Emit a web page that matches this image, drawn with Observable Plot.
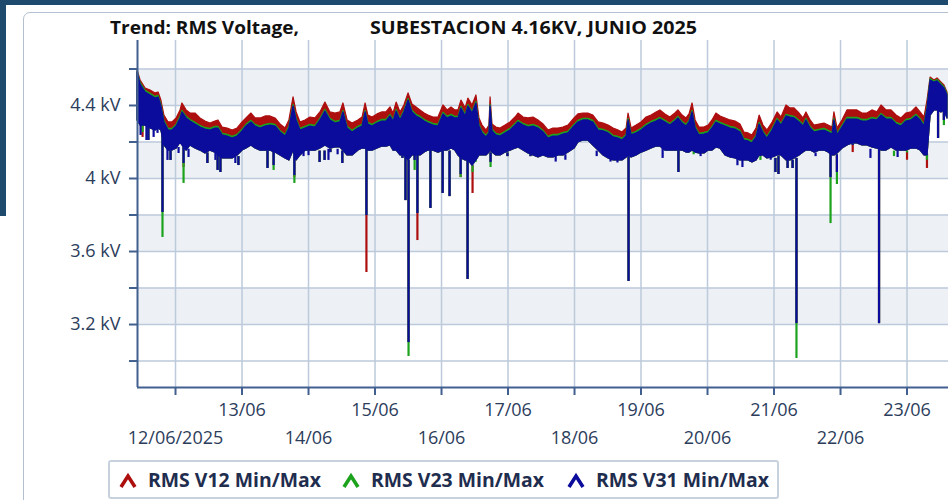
<!DOCTYPE html>
<html>
<head>
<meta charset="utf-8">
<script src="https://cdn.jsdelivr.net/npm/d3@7"></script>
<script src="https://cdn.jsdelivr.net/npm/@observablehq/plot@0.6"></script>
<style>
html,body{margin:0;padding:0;background:#fff;}
#wrap{position:relative;width:948px;height:500px;overflow:hidden;font-family:"Open Sans",sans-serif;background:#fff;}
.bar-top{position:absolute;left:0;top:0;width:948px;height:5px;background:#1e4a6e;}
.bar-left{position:absolute;left:0;top:0;width:6px;height:216px;background:#1e4a6e;}
.panel{position:absolute;left:23px;top:12px;width:960px;height:520px;border:1.5px solid #b3c0d0;border-radius:7px;box-sizing:border-box;}
#chart{position:absolute;left:0;top:0;}
#overlay{position:absolute;left:0;top:0;}
</style>
</head>
<body>
<div id="wrap">
  <div class="bar-top"></div>
  <div class="bar-left"></div>
  <div class="panel"></div>
  <div id="chart"></div>
  <svg id="overlay" width="948" height="500"></svg>
</div>
<script>
// ---------- DATA ----------
const titleLeft = "Trend: RMS Voltage,";
const titleRight = "SUBESTACION 4.16KV, JUNIO 2025";
const seriesNames = ["RMS V12 Min/Max", "RMS V23 Min/Max", "RMS V31 Min/Max"];
const seriesColors = ["#ad0e0e", "#1ca21c", "#0c0c9c"];

// envelope sample times: hours since 2025-06-11 00:00
const envHours = [10.3,11.4,13.2,15.0,16.8,17.9,18.9,20.0,21.5,22.9,
24.4,25.8,26.5,28.0,29.4,31.2,33.0,34.8,36.6,38.4,
39.5,41.0,42.8,44.6,46.4,48.2,49.6,51.4,52.9,54.7,
56.5,58.3,60.1,61.9,63.7,65.1,66.6,67.7,69.1,70.9,
72.7,74.5,76.3,78.1,79.9,81.7,83.5,84.6,86.1,87.9,
90.0,91.5,92.6,93.6,95.1,96.9,98.7,100.1,101.6,102.7,
103.8,105.2,106.6,108.1,109.5,111.0,112.4,113.9,115.3,117.1,
118.9,120.7,122.2,123.6,125.0,126.1,127.2,128.7,129.7,131.2,
132.6,133.7,134.8,136.2,137.3,137.7,138.4,139.8,141.3,143.1,
144.9,146.7,147.8,149.6,151.4,153.2,155.0,156.8,158.6,160.4,
162.2,164.0,165.8,168.0,169.4,171.2,173.0,174.8,176.7,178.5,
180.3,182.1,183.9,185.3,186.8,187.5,188.6,190.4,192.2,194.0,
195.8,197.6,199.0,200.8,202.6,204.4,205.5,207.0,208.4,209.5,
210.6,211.7,213.1,214.9,216.4,217.8,219.2,220.7,222.5,224.3,
226.1,227.9,229.3,230.8,232.2,233.7,234.8,236.2,237.6,239.5,
241.3,242.7,244.5,245.9,247.4,249.2,250.6,251.7,253.2,254.6,
256.4,258.2,259.7,261.1,261.8,262.9,264.7,266.5,268.3,270.1,
271.9,273.7,275.5,277.3,278.8,280.6,282.4,284.2,286.0,287.8,
289.6,291.4,292.9,294.3,295.4,296.5,297.9,299.0,300.4,301.5,302.6];

// V12 max (kV)
const v12Max = [4.592,4.537,4.493,4.482,4.466,4.471,4.427,4.345,4.307,4.307,
4.329,4.373,4.411,4.373,4.356,4.356,4.329,4.312,4.301,4.312,
4.318,4.279,4.274,4.263,4.274,4.307,4.329,4.356,4.329,4.329,
4.340,4.340,4.329,4.296,4.274,4.318,4.444,4.362,4.307,4.318,
4.334,4.329,4.362,4.416,4.362,4.356,4.362,4.411,4.318,4.301,
4.318,4.334,4.411,4.345,4.334,4.351,4.362,4.362,4.389,4.356,
4.416,4.362,4.400,4.466,4.405,4.389,4.373,4.356,4.345,4.334,
4.334,4.400,4.373,4.389,4.373,4.373,4.427,4.384,4.438,4.400,
4.455,4.329,4.290,4.263,4.290,4.444,4.296,4.279,4.274,4.290,
4.307,4.334,4.356,4.334,4.329,4.334,4.318,4.296,4.263,4.274,
4.274,4.279,4.290,4.329,4.351,4.356,4.356,4.345,4.307,4.301,
4.290,4.274,4.263,4.252,4.274,4.356,4.274,4.290,4.307,4.334,
4.345,4.362,4.373,4.351,4.334,4.356,4.373,4.345,4.329,4.351,
4.411,4.318,4.279,4.279,4.290,4.318,4.356,4.340,4.329,4.318,
4.312,4.296,4.252,4.247,4.236,4.274,4.345,4.290,4.263,4.307,
4.362,4.334,4.400,4.384,4.384,4.356,4.329,4.362,4.318,4.290,
4.296,4.301,4.290,4.279,4.362,4.274,4.318,4.373,4.373,4.373,
4.356,4.356,4.373,4.362,4.400,4.373,4.373,4.345,4.329,4.356,
4.362,4.389,4.362,4.334,4.427,4.553,4.537,4.548,4.526,4.510,4.471];

// V23 max (kV)
const v23Max = [4.586,4.524,4.480,4.464,4.447,4.453,4.404,4.316,4.272,4.272,
4.294,4.338,4.371,4.338,4.321,4.305,4.288,4.277,4.272,4.283,
4.283,4.245,4.239,4.228,4.239,4.267,4.294,4.316,4.294,4.283,
4.294,4.299,4.294,4.261,4.239,4.283,4.404,4.327,4.272,4.283,
4.294,4.288,4.327,4.376,4.327,4.310,4.316,4.371,4.283,4.261,
4.283,4.294,4.371,4.305,4.294,4.310,4.321,4.321,4.349,4.321,
4.376,4.327,4.371,4.436,4.371,4.349,4.338,4.321,4.310,4.299,
4.294,4.360,4.338,4.349,4.338,4.338,4.393,4.349,4.404,4.365,
4.420,4.294,4.256,4.234,4.256,4.404,4.267,4.245,4.239,4.256,
4.272,4.299,4.316,4.299,4.288,4.294,4.283,4.261,4.228,4.239,
4.239,4.250,4.256,4.294,4.316,4.327,4.327,4.316,4.272,4.267,
4.256,4.234,4.228,4.217,4.239,4.327,4.245,4.256,4.272,4.294,
4.310,4.321,4.332,4.316,4.299,4.321,4.338,4.310,4.294,4.316,
4.371,4.283,4.245,4.250,4.256,4.283,4.316,4.305,4.294,4.283,
4.277,4.261,4.217,4.212,4.201,4.234,4.305,4.256,4.228,4.272,
4.327,4.299,4.349,4.343,4.338,4.316,4.294,4.327,4.283,4.261,
4.267,4.272,4.261,4.250,4.327,4.245,4.288,4.332,4.332,4.332,
4.321,4.321,4.332,4.327,4.354,4.332,4.332,4.305,4.294,4.321,
4.327,4.349,4.327,4.294,4.393,4.545,4.531,4.540,4.518,4.501,4.463];

// V31 max (kV)
const v31Max = [4.581,4.515,4.471,4.455,4.438,4.444,4.395,4.307,4.263,4.263,
4.285,4.329,4.362,4.329,4.312,4.296,4.279,4.268,4.263,4.274,
4.274,4.236,4.230,4.219,4.230,4.258,4.285,4.307,4.285,4.274,
4.285,4.290,4.285,4.252,4.230,4.274,4.395,4.318,4.263,4.274,
4.285,4.279,4.318,4.367,4.318,4.301,4.307,4.362,4.274,4.252,
4.274,4.285,4.362,4.296,4.285,4.301,4.312,4.312,4.340,4.312,
4.367,4.318,4.362,4.427,4.362,4.340,4.329,4.312,4.301,4.290,
4.285,4.351,4.329,4.340,4.329,4.329,4.384,4.340,4.395,4.356,
4.411,4.285,4.247,4.225,4.247,4.395,4.258,4.236,4.230,4.247,
4.263,4.290,4.307,4.290,4.279,4.285,4.274,4.252,4.219,4.230,
4.230,4.241,4.247,4.285,4.307,4.318,4.318,4.307,4.263,4.258,
4.247,4.225,4.219,4.208,4.230,4.318,4.236,4.247,4.263,4.285,
4.301,4.312,4.323,4.307,4.290,4.312,4.329,4.301,4.285,4.307,
4.362,4.274,4.236,4.241,4.247,4.274,4.307,4.296,4.285,4.274,
4.268,4.252,4.208,4.203,4.192,4.225,4.296,4.247,4.219,4.263,
4.318,4.290,4.340,4.334,4.329,4.307,4.285,4.318,4.274,4.252,
4.258,4.263,4.252,4.241,4.318,4.236,4.279,4.323,4.323,4.323,
4.312,4.312,4.323,4.318,4.345,4.323,4.323,4.296,4.285,4.312,
4.318,4.340,4.318,4.285,4.384,4.537,4.526,4.532,4.510,4.493,4.455];

// common lower envelope of the minima (kV)
const envLow = [4.318,4.290,4.290,4.274,4.263,4.274,4.263,4.181,4.153,4.153,
4.164,4.197,4.181,4.153,4.181,4.164,4.153,4.137,4.153,4.142,
4.126,4.110,4.110,4.110,4.126,4.153,4.164,4.181,4.164,4.153,
4.153,4.153,4.142,4.126,4.110,4.099,4.153,4.099,4.126,4.153,
4.153,4.153,4.164,4.181,4.164,4.170,4.170,4.153,4.126,4.126,
4.153,4.164,4.164,4.153,4.153,4.164,4.175,4.175,4.181,4.153,
4.153,4.126,4.126,4.099,4.126,4.126,4.126,4.142,4.153,4.153,
4.142,4.153,4.153,4.164,4.153,4.126,4.110,4.099,4.099,4.071,
4.099,4.126,4.126,4.126,4.142,4.153,4.142,4.126,4.126,4.142,
4.153,4.164,4.170,4.153,4.137,4.126,4.115,4.126,4.115,4.115,
4.126,4.126,4.142,4.164,4.197,4.208,4.208,4.181,4.153,4.126,
4.110,4.099,4.099,4.099,4.115,4.126,4.115,4.126,4.142,4.153,
4.164,4.175,4.175,4.153,4.153,4.153,4.153,4.153,4.142,4.142,
4.153,4.142,4.137,4.137,4.153,4.153,4.170,4.164,4.126,4.115,
4.110,4.099,4.099,4.099,4.088,4.099,4.126,4.126,4.110,4.115,
4.126,4.126,4.099,4.099,4.110,4.126,4.142,4.153,4.153,4.142,
4.153,4.153,4.142,4.126,4.126,4.137,4.164,4.181,4.192,4.192,
4.181,4.181,4.170,4.164,4.153,4.153,4.170,4.153,4.153,4.153,
4.164,4.164,4.153,4.126,4.126,4.345,4.373,4.373,4.362,4.373,4.329];

// voltage dips seen on the three phases (hours since 2025-06-11 00:00)
const spikeHours = [12.1,14.2,19.3,22.2,26.9,35.5,39.2,40.2,46.7,57.2,
59.4,66.9,76.0,77.8,79.9,84.2,92.9,105.9,107.0,108.1,
110.3,111.3,116.0,120.4,122.9,126.9,129.4,131.2,132.3,137.7,
143.8,152.1,187.5,205.5,211.0,231.5,235.1,240.5,241.6,244.9,
246.7,248.1,260.4,262.7,268.4,277.9,283.3,288.0,295.2,299.2,301.3];
const spikeFrom = [4.30,4.30,4.26,4.15,4.18,4.14,4.14,4.12,4.12,4.15,
4.15,4.15,4.15,4.15,4.16,4.15,4.16,4.13,4.13,4.10,
4.13,4.13,4.15,4.15,4.15,4.13,4.10,4.07,4.10,4.14,
4.14,4.13,4.12,4.15,4.15,4.10,4.12,4.11,4.12,4.10,
4.10,4.11,4.15,4.13,4.19,4.16,4.15,4.15,4.13,4.37,4.37];
const v12Low = [4.225,4.208,3.814,4.099,4.060,4.082,4.044,4.033,4.071,4.055,
4.071,4.005,4.088,4.099,4.142,4.082,3.485,4.110,3.879,3.101,
4.099,3.660,3.836,3.918,3.901,4.005,3.447,3.918,4.110,4.088,
4.120,4.120,3.436,4.033,4.153,4.115,4.126,4.033,4.022,4.055,
4.055,3.205,4.005,4.033,4.142,3.205,4.150,4.100,4.055,4.219,4.318];
const v23Low = [4.252,4.208,3.677,4.099,3.973,4.082,4.044,4.033,4.071,4.055,
4.044,3.973,4.088,4.099,4.142,4.082,3.797,4.110,3.879,3.025,
4.044,3.808,3.836,3.918,3.901,4.005,3.447,4.033,4.088,4.060,
4.120,4.120,3.436,4.033,4.130,4.088,4.099,4.033,4.022,4.055,
4.055,3.014,3.753,3.967,4.181,3.205,4.120,4.140,4.100,4.219,4.290];
const v31Low = [4.290,4.208,3.814,4.099,4.082,4.082,4.044,4.033,4.071,4.055,
4.071,4.016,4.088,4.099,4.142,4.082,3.797,4.110,3.879,3.101,
4.099,3.808,3.836,3.918,3.901,4.022,3.447,4.071,4.110,4.088,
4.120,4.120,3.436,4.033,4.153,4.115,4.126,4.033,4.022,4.055,
4.055,3.205,4.005,4.033,4.181,3.205,4.150,4.150,4.126,4.219,4.318];

// small dips of V31 below the band
const minorDipHours = [11.4,13.5,16.1,17.5,21.1,25.1,28.7,38.4,45.6,70.2,72.0,79.2,82.5,
161.2,164.7,176.0,181.0,183.5,199.8,213.5,226.8,228.6,238.8,255.0,274.8,284.6];
const minorDipFrom = [4.30,4.29,4.27,4.27,4.16,4.17,4.16,4.14,4.12,4.15,4.15,4.16,4.16,
4.12,4.13,4.15,4.12,4.11,4.17,4.14,4.12,4.11,4.12,4.14,4.16,4.15];
const minorDipLow = [4.236,4.208,4.225,4.247,4.099,4.137,4.115,4.099,4.082,4.120,4.125,4.099,4.130,
4.090,4.100,4.120,4.090,4.085,4.110,4.120,4.070,4.060,4.100,4.120,4.110,4.115];

// axes
const dayTicks = ["2025-06-12","2025-06-13","2025-06-14","2025-06-15","2025-06-16","2025-06-17",
"2025-06-18","2025-06-19","2025-06-20","2025-06-21","2025-06-22","2025-06-23"];
const dayLabels = ["12/06/2025","13/06","14/06","15/06","16/06","17/06","18/06","19/06","20/06","21/06","22/06","23/06"];
const yTicks = [4.6,4.4,4.2,4.0,3.8,3.6,3.4,3.2,3.0];
const yLabelValues = [4.4,4.0,3.6,3.2];
const yLabelTexts = ["4.4 kV","4 kV","3.6 kV","3.2 kV"];
const bandHi = [4.6,4.2,3.8,3.4];
const bandLo = [4.4,4.0,3.6,3.2];
const xStartHour = 10.28, xEndHour = 302.97;
const yDomain = [2.855, 4.756];

// ---------- BUILD ----------
const T0 = Date.UTC(2025, 5, 11);
const toDate = h => new Date(T0 + h * 3600000);
const env = envHours.map((h, i) => ({t: toDate(h), v12: v12Max[i], v23: v23Max[i], v31: v31Max[i], low: envLow[i]}));
const spikes = spikeHours.map((h, i) => ({t: toDate(h), from: spikeFrom[i], v12: v12Low[i], v23: v23Low[i], v31: v31Low[i]}));
const minorDips = minorDipHours.map((h, i) => ({t: toDate(h), from: minorDipFrom[i], low: minorDipLow[i]}));
const days = dayTicks.map((s, i) => ({t: new Date(s + "T00:00:00Z"), label: dayLabels[i], row: i % 2}));
const bands = bandLo.map((lo, i) => ({lo, hi: bandHi[i]}));
const yLabels = yLabelValues.map((v, i) => ({v, text: yLabelTexts[i]}));
const xDomain = [toDate(xStartHour), toDate(xEndHour)];

const axisColor = "#42608f";
const labelColor = "#2c3d5c";
const gridColor = "#bccadb";
const bandFill = "#edf0f5";
const keys = ["v12", "v23", "v31"];

const seriesMarks = [];
keys.forEach((k, i) => {
  seriesMarks.push(Plot.areaY(env, {x: "t", y1: "low", y2: k, fill: seriesColors[i], stroke: seriesColors[i], strokeWidth: 1.2, curve: "linear"}));
  seriesMarks.push(Plot.ruleX(spikes, {x: "t", y1: k, y2: "from", stroke: seriesColors[i], strokeWidth: 2.2}));
});
seriesMarks.push(Plot.ruleX(minorDips, {x: "t", y1: "low", y2: "from", stroke: seriesColors[2], strokeWidth: 2.2}));

const chart = Plot.plot({
  width: 948,
  height: 460,
  marginLeft: 137,
  marginRight: 0,
  marginTop: 40,
  marginBottom: 73,
  x: {type: "utc", domain: xDomain, axis: null},
  y: {domain: yDomain, axis: null},
  style: {background: "transparent", overflow: "visible", fontFamily: "'Open Sans', sans-serif", color: labelColor},
  marks: [
    Plot.rect(bands, {x1: () => xDomain[0], x2: () => xDomain[1], y1: "lo", y2: "hi", fill: bandFill}),
    Plot.ruleY(yTicks, {stroke: gridColor, strokeWidth: 1.5}),
    Plot.ruleX(days, {x: "t", stroke: gridColor, strokeWidth: 1.5}),
    ...seriesMarks,
    Plot.ruleX([xDomain[0]], {stroke: axisColor, strokeWidth: 2}),
    Plot.ruleY([yDomain[0]], {stroke: axisColor, strokeWidth: 2}),
    Plot.axisY(yTicks, {tickSize: 8, tickFormat: () => "", stroke: axisColor, strokeWidth: 2, label: null}),
    Plot.text(yLabels, {y: "v", text: "text", frameAnchor: "left", dx: -17, textAnchor: "end", fontSize: 18, fill: labelColor}),
    Plot.axisX(days.map(d => d.t), {tickSize: 8, tickFormat: () => "", stroke: axisColor, strokeWidth: 2, label: null}),
    Plot.text(days.filter(d => d.row === 1), {x: "t", text: "label", frameAnchor: "bottom", dy: 28, fontSize: 18, fill: labelColor}),
    Plot.text(days.filter(d => d.row === 0), {x: "t", text: "label", frameAnchor: "bottom", dy: 56, fontSize: 18, fill: labelColor})
  ]
});
document.getElementById("chart").appendChild(chart);

// ---------- TITLE & LEGEND ----------
const ov = d3.select("#overlay");
ov.append("text").attr("x", 110).attr("y", 34).attr("font-family", "'Open Sans', sans-serif").attr("font-weight", 700)
  .attr("font-size", 18).attr("fill", "#111").attr("textLength", 189).attr("lengthAdjust", "spacingAndGlyphs").text(titleLeft);
ov.append("text").attr("x", 370).attr("y", 34).attr("font-family", "'Open Sans', sans-serif").attr("font-weight", 700)
  .attr("font-size", 18).attr("fill", "#111").attr("textLength", 327).attr("lengthAdjust", "spacingAndGlyphs").text(titleRight);

ov.append("rect").attr("x", 109).attr("y", 461).attr("width", 669).attr("height", 37).attr("rx", 2)
  .attr("fill", "#fff").attr("stroke", "#c8d2df").attr("stroke-width", 2);
const legX = [121, 344, 569];
seriesNames.forEach((name, i) => {
  const x0 = legX[i];
  ov.append("path").attr("d", `M${x0},${487} L${x0 + 7},${476} L${x0 + 14},${487}`)
    .attr("fill", "none").attr("stroke", seriesColors[i]).attr("stroke-width", 3.6).attr("stroke-linejoin", "miter");
  ov.append("text").attr("x", x0 + 27).attr("y", 487).attr("font-family", "'Open Sans', sans-serif").attr("font-weight", 700)
    .attr("font-size", 19).attr("fill", "#1f2d4f").attr("textLength", 173).attr("lengthAdjust", "spacingAndGlyphs").text(name);
});
</script>
</body>
</html>
